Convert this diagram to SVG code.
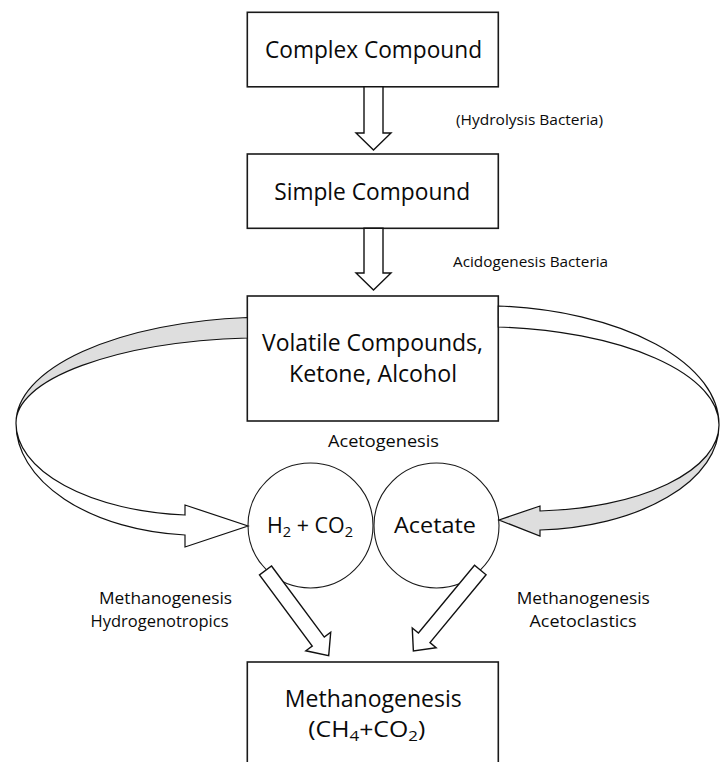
<svg xmlns="http://www.w3.org/2000/svg" width="720" height="762" viewBox="0 0 720 762">
<style>
  .box { fill: #ffffff; stroke: #1a1a1a; stroke-width: 1.6; }
  .circ { fill: #ffffff; stroke: #1a1a1a; stroke-width: 1.1; }
  .arr { fill: #ffffff; stroke: #111111; stroke-width: 1.4; stroke-linejoin: miter; }
  .band-g { fill: #dedede; stroke: #111111; stroke-width: 1.2; }
  .band-w { fill: #ffffff; stroke: #111111; stroke-width: 1.2; }
  text { font-family: "Open Sans", "Liberation Sans", sans-serif; fill: #0a0a0a; }
  .big { font-size: 23px; text-anchor: middle; }
  .mid { font-size: 22px; }
  .lab { font-size: 16px; text-anchor: middle; }
  .small { font-size: 14.5px; text-anchor: middle; }
</style>
<rect width="720" height="762" fill="#ffffff"/>

<g id="node-complex">
  <rect class="box" x="247.3" y="12.3" width="251" height="74.5"/>
  <text class="big" x="373.5" y="58" textLength="217" lengthAdjust="spacingAndGlyphs">Complex Compound</text>
</g>
<g id="node-simple">
  <rect class="box" x="247.3" y="154" width="251" height="74.3"/>
  <text class="big" x="372.2" y="199.5" textLength="196" lengthAdjust="spacingAndGlyphs">Simple Compound</text>
</g>
<g id="node-volatile">
  <rect class="box" x="247.3" y="296" width="251" height="125"/>
  <text class="big" x="372.5" y="351" font-size="24" textLength="221" lengthAdjust="spacingAndGlyphs">Volatile Compounds,</text>
  <text class="big" x="373" y="382" font-size="24" textLength="168" lengthAdjust="spacingAndGlyphs">Ketone, Alcohol</text>
</g>
<g id="node-h2co2">
  <circle class="circ" cx="310.5" cy="525.5" r="62.5"/>
  <text class="mid" x="267" y="533.3" textLength="86" lengthAdjust="spacingAndGlyphs">H<tspan dy="4" font-size="15">2</tspan><tspan dy="-4"> + CO</tspan><tspan dy="4" font-size="15">2</tspan></text>
</g>
<g id="node-acetate">
  <circle class="circ" cx="436.5" cy="525.5" r="62.5"/>
  <text class="mid" x="394" y="533.3" textLength="82" lengthAdjust="spacingAndGlyphs">Acetate</text>
</g>
<g id="node-methanogenesis">
  <rect class="box" x="247.3" y="662" width="251" height="104"/>
  <text class="big" x="373.3" y="707" font-size="22" textLength="177" lengthAdjust="spacingAndGlyphs">Methanogenesis</text>
  <text class="mid" x="308.3" y="736.7" textLength="117" lengthAdjust="spacingAndGlyphs">(CH<tspan dy="4" font-size="15">4</tspan><tspan dy="-4">+CO</tspan><tspan dy="4" font-size="15">2</tspan><tspan dy="-4">)</tspan></text>
</g>

<g id="connectors">
  <path class="arr" d="M364,86.8 L364,133 L356,133 L373.5,150 L391,133 L383,133 L383,86.8 Z"/>
  <path class="arr" d="M364,228.3 L364,273 L356,273 L373.5,290 L391,273 L383,273 L383,228.3 Z"/>
  <path class="band-g" d="M247.3,317.5 A254,106 0 0 0 16,423 A254,85 0 0 1 247.3,338 Z"/>
  <path class="band-w" d="M16,423 A184,112 0 0 0 185,535 L185,547 L248,526 L185,505 L185,515 A184,92 0 0 1 16,423 Z"/>
  <path class="band-w" d="M498.3,306 A239,119 0 0 1 719,425 A239,98 0 0 0 498.3,327 Z"/>
  <path class="band-g" d="M719,425 A189,105 0 0 1 540,530 L540,536 L499,520 L540,506 L540,511 A189,86 0 0 0 719,425 Z"/>
  <path class="arr" transform="translate(265.5,570.5) rotate(53.4)" d="M0,-7.5 L88.5,-7.5 L88.5,-15.5 L106,0 L88.5,15.5 L88.5,7.5 L0,7.5 Z"/>
  <path class="arr" transform="translate(480.3,570) rotate(129.6)" d="M0,-7.5 L88,-7.5 L88,-15.5 L105,0 L88,15.5 L88,7.5 L0,7.5 Z"/>
</g>

<g id="labels">
  <text class="small" x="529.5" y="125" textLength="147" lengthAdjust="spacingAndGlyphs">(Hydrolysis Bacteria)</text>
  <text class="small" x="530.5" y="267" textLength="155" lengthAdjust="spacingAndGlyphs">Acidogenesis Bacteria</text>
  <text class="lab" x="383.5" y="447" textLength="111" lengthAdjust="spacingAndGlyphs">Acetogenesis</text>
  <text class="lab" x="165.5" y="604" textLength="133" lengthAdjust="spacingAndGlyphs">Methanogenesis</text>
  <text class="lab" x="159.5" y="627" textLength="138" lengthAdjust="spacingAndGlyphs">Hydrogenotropics</text>
  <text class="lab" x="583.3" y="604" textLength="133" lengthAdjust="spacingAndGlyphs">Methanogenesis</text>
  <text class="lab" x="583" y="627" textLength="107" lengthAdjust="spacingAndGlyphs">Acetoclastics</text>
</g>
</svg>
